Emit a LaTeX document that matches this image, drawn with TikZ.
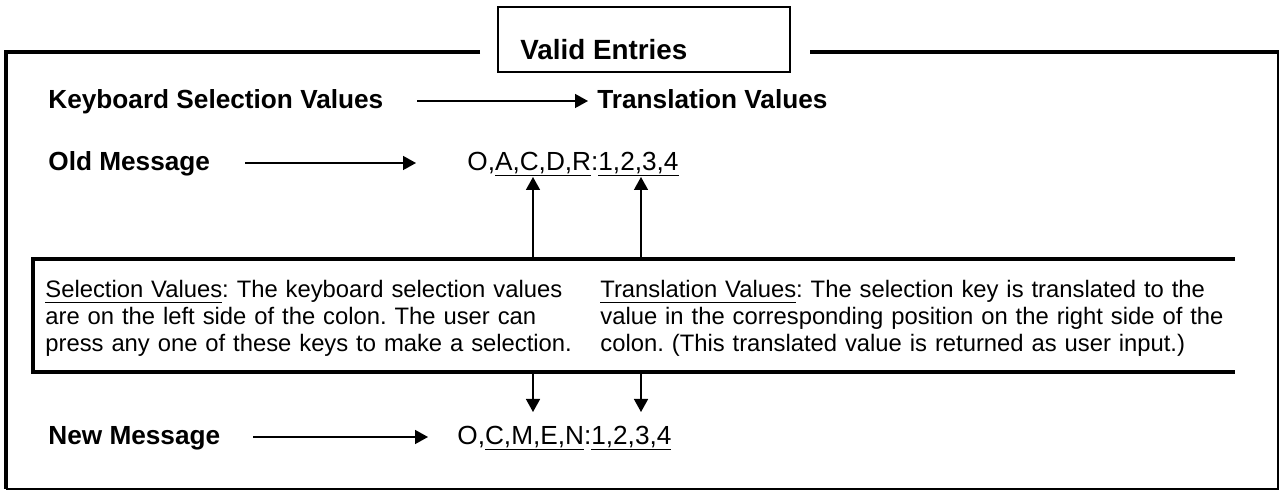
\documentclass[tikz,border=0pt]{standalone}
\usepackage{fontspec}
\setmainfont{Liberation Sans}
\usetikzlibrary{arrows.meta}
\frenchspacing
\newsavebox\ulbox
\newcommand\myul[1]{\sbox\ulbox{#1}\rlap{\rule[-2.6pt]{\wd\ulbox}{0.8pt}}\usebox\ulbox}
\begin{document}
\begin{tikzpicture}[x=0.5pt,y=-0.5pt,
  lbl/.style={anchor=base west,inner sep=0pt,font=\fontsize{13.1}{15}\selectfont\bfseries},
  msg/.style={anchor=base west,inner sep=0pt,font=\fontsize{13.1}{15}\selectfont},
  desc/.style={anchor=base west,inner sep=0pt,align=left,text width=340pt,font=\fontsize{11.9}{13.5}\selectfont},
  arr/.style={line width=0.75pt,-{Triangle[length=6.5pt,width=7pt]}},
  thickframe/.style={line width=1.8pt},
  thinframe/.style={line width=0.6pt},
  descbox/.style={line width=2pt}]
\useasboundingbox (0,0) rectangle (1281,491);
% outer frame
\draw[thickframe] (480,52) -- (6,52) -- (6,489);
\draw[thinframe] (5.5,489) -- (1278,489) -- (1278,52);
\draw[thickframe] (810,52) -- (1278.5,52);
% title box
\draw[thinframe] (498,7) rectangle (790,72);
\node[lbl,font=\fontsize{13.9}{16}\selectfont\bfseries] (valid) at (520,60) {Valid Entries};
% row 1
\node[lbl] (kbd) at (48,109) {Keyboard Selection Values};
\node[lbl] (trans) at (597,109) {Translation Values};
\coordinate (k1) at (417,101);
\coordinate (k2) at (588,101);
\draw[arr] (k1) -- (k2);
% row 2
\node[lbl] (old) at (48,171) {Old Message};
\node[msg] (oldmsg) at (467,171) {O,\myul{A,C,D,R}:\myul{1,2,3,4}};
\coordinate (o1) at (245,163);
\coordinate (o2) at (416,163);
\draw[arr] (o1) -- (o2);
% description box
\draw[descbox] (1235,259) -- (33,259) -- (33,372) -- (1235,372);
\node[desc] (selv) at (45,298) {\myul{Selection Values}: The keyboard selection values\\are on the left side of the colon. The user can\\press any one of these keys to make a selection.};
\node[desc] (tranv) at (600,298) {\myul{Translation Values}: The selection key is translated to the\\value in the corresponding position on the right side of the\\colon. (This translated value is returned as user input.)};
% up arrows
\coordinate (u1s) at (533,257);
\coordinate (u1e) at (533,177);
\coordinate (u2s) at (641,257);
\coordinate (u2e) at (641,177);
\draw[arr] (u1s) -- (u1e);
\draw[arr] (u2s) -- (u2e);
% down arrows
\coordinate (d1s) at (533,374);
\coordinate (d1e) at (533,412);
\coordinate (d2s) at (641,374);
\coordinate (d2e) at (641,412);
\draw[arr] (d1s) -- (d1e);
\draw[arr] (d2s) -- (d2e);
% row 3
\node[lbl] (new) at (48,445) {New Message};
\node[msg] (newmsg) at (457,445) {O,\myul{C,M,E,N}:\myul{1,2,3,4}};
\coordinate (n1) at (253,437);
\coordinate (n2) at (428,437);
\draw[arr] (n1) -- (n2);
\end{tikzpicture}
\end{document}
